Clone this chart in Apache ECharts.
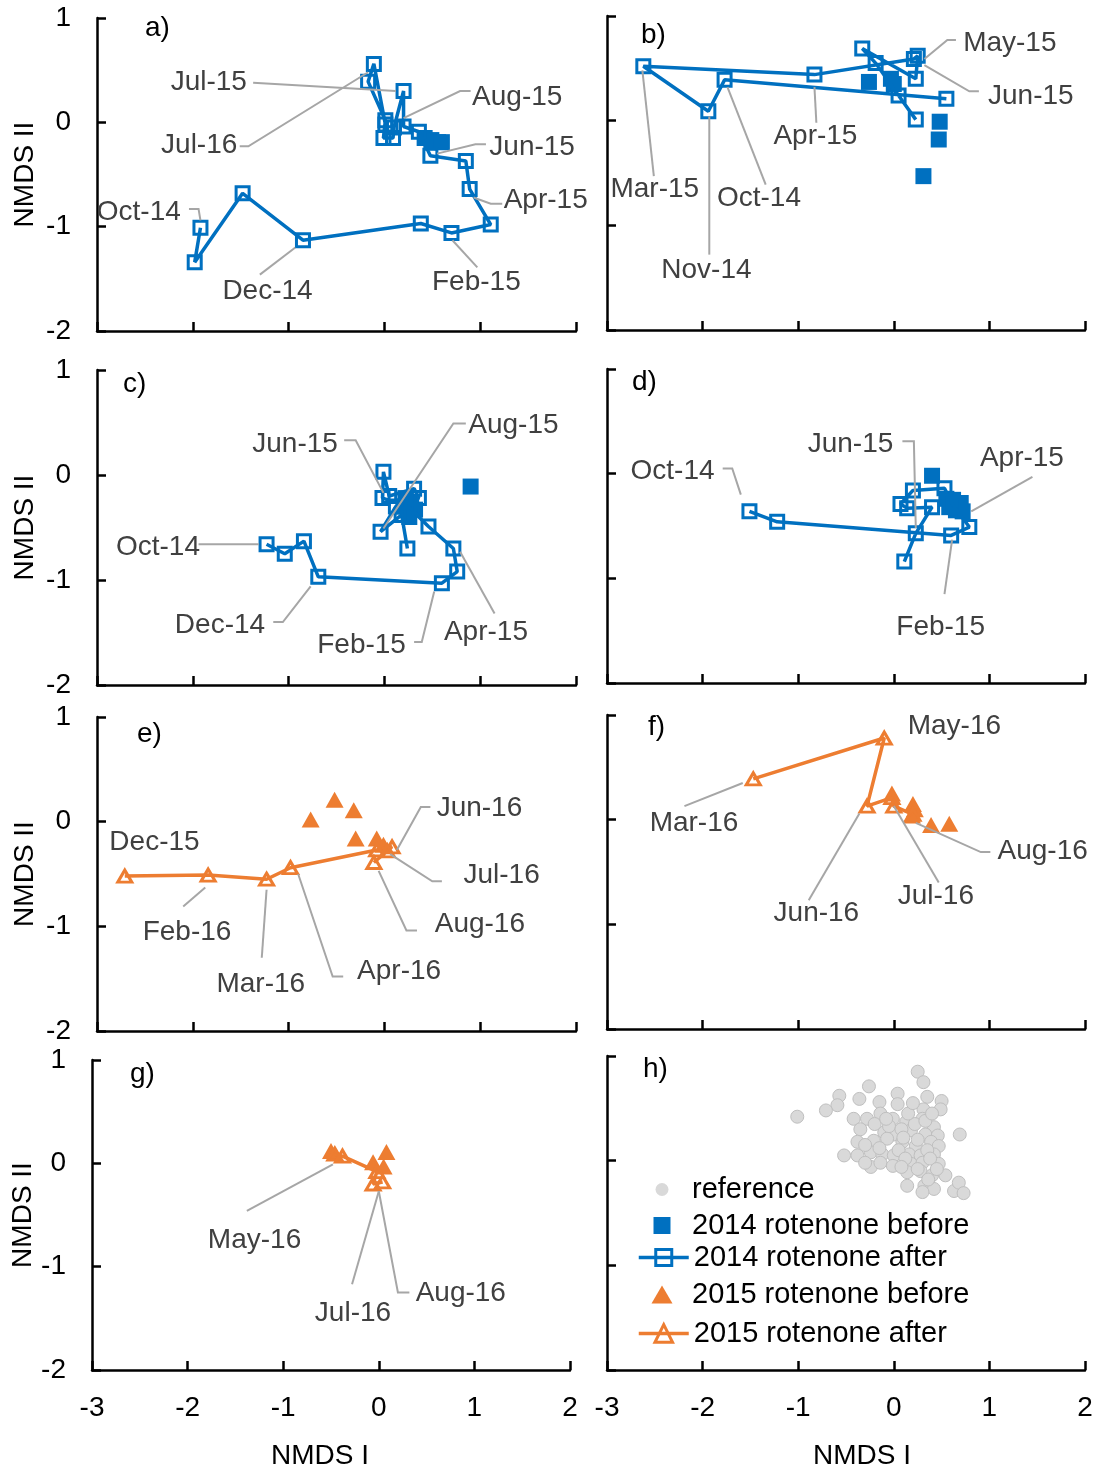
<!DOCTYPE html>
<html>
<head>
<meta charset="utf-8">
<script src="https://cdn.jsdelivr.net/npm/echarts@6/dist/echarts.min.js"></script>
<style>
html,body{margin:0;padding:0;background:#fff}
#chart{width:1099px;height:1471px}
</style>
</head>
<body>
<div id="chart"></div>
<script>
// NMDS ordination scores [NMDS I, NMDS II] for each station panel

// a)
const aBefore = [[0.42,-0.15],[0.49,-0.17],[0.56,-0.19],[0.60,-0.19]];
const aAfter = [[-1.92,-1.01],[-1.98,-1.34],[-1.48,-0.68],[-0.85,-1.13],[0.38,-0.97],[0.70,-1.06],[1.11,-0.98],[0.89,-0.64],[0.85,-0.37],[0.48,-0.32],[0.36,-0.09],[0.20,-0.04],[0.20,0.30],[0.10,-0.05],[0.09,-0.15],[-0.01,-0.15],[0.01,0.02],[-0.17,0.39],[-0.11,0.56],[0.01,-0.02]];
// b)
const bBefore = [[-0.26,0.37],[-0.03,0.40],[0.00,0.35],[0.48,-0.01],[0.47,-0.18],[0.31,-0.53]];
const bAfter = [[0.55,0.21],[-1.77,0.39],[-1.94,0.09],[-2.62,0.52],[-0.83,0.44],[0.21,0.59],[0.25,0.62],[0.23,0.40],[-0.33,0.69],[-0.19,0.55],[0.05,0.24],[0.23,0.01]];
// c)
const cBefore = [[0.90,-0.11],[0.22,-0.22],[0.28,-0.27],[0.32,-0.33],[0.26,-0.40],[0.20,-0.30]];
const cAfter = [[-1.23,-0.66],[-1.04,-0.75],[-0.84,-0.63],[-0.69,-0.97],[0.60,-1.03],[0.76,-0.92],[0.72,-0.70],[0.46,-0.49],[0.25,-0.30],[-0.02,-0.22],[-0.01,0.03],[0.05,-0.20],[0.31,-0.13],[0.36,-0.22],[0.12,-0.30],[-0.04,-0.54],[0.18,-0.38],[0.24,-0.70]];
// d)
const dBefore = [[0.40,-0.02],[0.55,-0.24],[0.62,-0.25],[0.70,-0.28],[0.65,-0.35],[0.58,-0.32],[0.72,-0.36]];
const dAfter = [[-1.51,-0.36],[-1.22,-0.46],[0.60,-0.59],[0.79,-0.51],[0.62,-0.30],[0.53,-0.14],[0.20,-0.16],[0.07,-0.29],[0.14,-0.33],[0.40,-0.32],[0.23,-0.57],[0.11,-0.84]];
// e)
const eBefore = [[-0.77,0.02],[-0.52,0.21],[-0.32,0.11],[-0.30,-0.16],[-0.08,-0.16],[-0.01,-0.22]];
const eAfter = [[-2.71,-0.52],[-1.84,-0.51],[-1.23,-0.55],[-0.98,-0.44],[-0.08,-0.27],[0.08,-0.24],[0.03,-0.28],[-0.11,-0.39]];
// f)
const fBefore = [[-0.02,0.25],[0.20,0.15],[0.22,0.10],[0.19,0.04],[0.39,-0.05],[0.58,-0.04]];
const fAfter = [[-1.47,0.39],[-0.10,0.78],[-0.28,0.13],[-0.02,0.21],[0.00,0.13],[0.20,0.05]];
// g)
const gBefore = [[-0.50,0.12],[-0.06,0.01],[0.08,0.11],[0.05,-0.03]];
const gAfter = [[-0.46,0.09],[-0.38,0.07],[-0.02,-0.08],[-0.06,-0.20],[0.04,-0.18]];
// h) reference stations
const hReference = [[0.25,0.85],[0.31,0.75],[-0.26,0.71],[-0.57,0.62],[0.04,0.64],[-0.36,0.59],[0.35,0.61],[0.50,0.57],[-0.15,0.56],[-0.59,0.53],[0.04,0.54],[-0.71,0.48],[0.31,0.49],[0.49,0.49],[-1.01,0.42],[-0.42,0.40],[-0.28,0.40],[-0.14,0.45],[-0.01,0.40],[0.13,0.37],[0.30,0.40],[0.42,0.32],[0.69,0.25],[-0.35,0.30],[-0.10,0.27],[0.00,0.25],[0.18,0.29],[0.33,0.25],[0.46,0.24],[-0.38,0.18],[-0.21,0.19],[-0.07,0.21],[0.09,0.18],[0.23,0.14],[0.39,0.18],[0.47,0.14],[-0.52,0.05],[-0.38,0.05],[-0.24,0.08],[-0.12,0.06],[0.00,0.05],[0.16,0.06],[0.28,0.05],[0.42,0.06],[-0.24,-0.06],[-0.14,-0.02],[-0.01,-0.05],[0.18,-0.03],[0.30,-0.02],[0.47,-0.03],[0.14,-0.11],[0.28,-0.10],[0.40,-0.14],[0.54,-0.14],[0.14,-0.24],[0.32,-0.24],[0.42,-0.27],[0.63,-0.29],[0.68,-0.21],[0.73,-0.31],[0.30,-0.30],[-0.05,0.33],[0.08,0.30],[0.22,0.35],[0.15,0.45],[0.25,0.20],[-0.30,0.15],[0.05,0.10],[0.35,0.10],[-0.15,0.12],[0.12,0.02],[0.25,-0.08],[0.38,0.02],[0.20,0.55],[0.33,0.38],[-0.20,0.35],[0.10,0.22],[-0.08,0.40],[0.40,0.45],[0.45,-0.08],[-0.30,-0.02],[0.08,-0.06],[0.36,-0.18]];

// Axis ticks
const xTicks = [-3, -2, -1, 0, 1, 2];
const yTicks = [-2, -1, 0, 1];

// Sampling-date annotations: text anchor, side of the anchor the text sits on, leader path
const aNotes = [
  {t:'Jul-15', at:[-1.43,0.38], side:'left', path:[[-1.37,0.38],[0.12,0.30]]},
  {t:'Jul-16', at:[-1.53,-0.22], side:'left', path:[[-1.51,-0.23],[-1.42,-0.23],[-0.17,0.48]]},
  {t:'Aug-15', at:[0.91,0.24], side:'right', path:[[0.90,0.30],[0.79,0.30],[0.20,0.04]]},
  {t:'Jun-15', at:[1.09,-0.24], side:'right', path:[[1.06,-0.21],[0.95,-0.21],[0.55,-0.30]]},
  {t:'Apr-15', at:[1.24,-0.75], side:'right', path:[[1.23,-0.78],[1.11,-0.78],[0.93,-0.72]]},
  {t:'Oct-14', at:[-2.12,-0.86], side:'left', path:[[-2.04,-0.83],[-1.94,-0.83],[-1.92,-0.94]]},
  {t:'Dec-14', at:[-1.22,-1.62], side:'center', path:[[-1.30,-1.46],[-0.93,-1.20]]},
  {t:'Feb-15', at:[0.96,-1.53], side:'center', path:[[0.97,-1.39],[0.71,-1.13]]}
];
const bNotes = [
  {t:'May-15', at:[0.72,0.74], side:'right', path:[[0.65,0.77],[0.56,0.77],[0.32,0.59]]},
  {t:'Jun-15', at:[0.98,0.23], side:'right', path:[[0.89,0.28],[0.79,0.28],[0.32,0.53]]},
  {t:'Apr-15', at:[-0.82,-0.15], side:'center', path:[[-0.81,-0.02],[-0.83,0.32]]},
  {t:'Mar-15', at:[-2.50,-0.66], side:'center', path:[[-2.51,-0.53],[-2.63,0.48]]},
  {t:'Oct-14', at:[-1.41,-0.74], side:'center', path:[[-1.34,-0.61],[-1.74,0.32]]},
  {t:'Nov-14', at:[-1.96,-1.43], side:'center', path:[[-1.93,-1.28],[-1.93,0.04]]}
];
const cNotes = [
  {t:'Jun-15', at:[-0.48,0.29], side:'left', path:[[-0.42,0.33],[-0.30,0.33],[-0.01,-0.17]]},
  {t:'Aug-15', at:[0.87,0.47], side:'right', path:[[0.85,0.49],[0.72,0.49],[-0.01,-0.51]]},
  {t:'Oct-14', at:[-1.92,-0.69], side:'left', path:[[-1.94,-0.66],[-1.31,-0.66]]},
  {t:'Dec-14', at:[-1.24,-1.43], side:'left', path:[[-1.16,-1.40],[-1.06,-1.40],[-0.77,-1.06]]},
  {t:'Feb-15', at:[0.23,-1.62], side:'left', path:[[0.31,-1.59],[0.39,-1.59],[0.52,-1.11]]},
  {t:'Apr-15', at:[1.06,-1.50], side:'center', path:[[1.15,-1.32],[0.79,-0.73]]}
];
const dNotes = [
  {t:'Oct-14', at:[-1.87,0.02], side:'left', path:[[-1.79,0.05],[-1.69,0.05],[-1.60,-0.20]]},
  {t:'Jun-15', at:[0.00,0.28], side:'left', path:[[0.09,0.31],[0.21,0.31],[0.23,-0.52]]},
  {t:'Apr-15', at:[1.34,0.15], side:'center', path:[[1.45,-0.03],[0.81,-0.36]]},
  {t:'Feb-15', at:[0.49,-1.47], side:'center', path:[[0.53,-1.15],[0.61,-0.63]]}
];
const eNotes = [
  {t:'Dec-15', at:[-2.40,-0.20], side:'center'},
  {t:'Feb-16', at:[-2.06,-1.06], side:'center', path:[[-2.10,-0.81],[-1.87,-0.63]]},
  {t:'Mar-16', at:[-1.29,-1.55], side:'center', path:[[-1.28,-1.30],[-1.23,-0.65]]},
  {t:'Apr-16', at:[-0.29,-1.43], side:'right', path:[[-0.43,-1.48],[-0.54,-1.48],[-0.90,-0.50]]},
  {t:'Aug-16', at:[0.52,-0.98], side:'right', path:[[0.34,-1.04],[0.23,-1.04],[-0.06,-0.47]]},
  {t:'Jul-16', at:[0.82,-0.51], side:'right', path:[[0.60,-0.57],[0.50,-0.57],[0.06,-0.31]]},
  {t:'Jun-16', at:[0.54,0.13], side:'right', path:[[0.48,0.14],[0.38,0.14],[0.13,-0.27]]}
];
const fNotes = [
  {t:'May-16', at:[0.14,0.89], side:'right'},
  {t:'Mar-16', at:[-2.09,-0.03], side:'center', path:[[-2.19,0.13],[-1.58,0.35]]},
  {t:'Jun-16', at:[-0.81,-0.89], side:'center', path:[[-0.89,-0.77],[-0.36,0.06]]},
  {t:'Jul-16', at:[0.44,-0.73], side:'center', path:[[0.47,-0.60],[0.00,0.13]]},
  {t:'Aug-16', at:[1.08,-0.30], side:'right', path:[[1.01,-0.31],[0.91,-0.31],[0.23,-0.03]]}
];
const gNotes = [
  {t:'May-16', at:[-1.30,-0.74], side:'center', path:[[-1.38,-0.46],[-0.48,-0.01]]},
  {t:'Jul-16', at:[-0.27,-1.45], side:'center', path:[[-0.28,-1.17],[0.00,-0.27]]},
  {t:'Aug-16', at:[0.38,-1.26], side:'right', path:[[0.32,-1.25],[0.20,-1.25],[0.00,-0.27]]}
];

const FONT = "'Liberation Sans', Arial, Helvetica, sans-serif";
const BLUE = '#0070C0', ORANGE = '#ED7D31', GREY = '#A6A6A6', INK = '#404040';

// Panel layout: [left, top, width, height] of each plot area
const panels = [
  {id:'a)', box:[97,18,479,313],  tag:[145,28],   col:0, year:2014, before:aBefore, after:aAfter, notes:aNotes},
  {id:'b)', box:[607,16,478,314], tag:[641,35],   col:1, year:2014, before:bBefore, after:bAfter, notes:bNotes},
  {id:'c)', box:[97,370,479,315], tag:[123,384],  col:0, year:2014, before:cBefore, after:cAfter, notes:cNotes},
  {id:'d)', box:[607,369,478,314],tag:[632,382],  col:1, year:2014, before:dBefore, after:dAfter, notes:dNotes},
  {id:'e)', box:[97,717,479,314], tag:[137,734],  col:0, year:2015, before:eBefore, after:eAfter, notes:eNotes},
  {id:'f)', box:[607,715,478,314],tag:[648,727],  col:1, year:2015, before:fBefore, after:fAfter, notes:fNotes},
  {id:'g)', box:[92,1060,478,313],tag:[130,1074], col:0, year:2015, before:gBefore, after:gAfter, notes:gNotes, bottom:true, namePad:[0,22,0,0]},
  {id:'h)', box:[607,1056,478,314],tag:[643,1069],col:1, reference:hReference, notes:[], bottom:true, namePad:[0,0,0,32]}
];

const grids = [], xAxes = [], yAxes = [], series = [], graphics = [];

panels.forEach((p, i) => {
  const [l, t, w, h] = p.box;
  grids.push({left:l, top:t, width:w, height:h, containLabel:false});

  xAxes.push({
    gridIndex:i, type:'value',
    min:xTicks[0], max:xTicks[xTicks.length-1], interval:1,
    axisLine:{show:true, onZero:false, lineStyle:{color:'#000', width:2.5}},
    axisTick:{show:true, inside:true, length:9, lineStyle:{color:'#000', width:2.5}},
    axisLabel:{show:!!p.bottom, color:'#000', fontSize:28, fontFamily:FONT, margin:24},
    splitLine:{show:false},
    name:p.bottom ? 'NMDS I' : '', nameLocation:'middle', nameGap:72,
    nameTextStyle:{color:'#000', fontSize:28, fontFamily:FONT, padding:p.namePad || 0}
  });

  yAxes.push({
    gridIndex:i, type:'value',
    min:yTicks[0], max:yTicks[yTicks.length-1], interval:1,
    axisLine:{show:true, onZero:false, lineStyle:{color:'#000', width:2.5}},
    axisTick:{show:true, inside:true, length:9, lineStyle:{color:'#000', width:2.5}},
    axisLabel:{show:p.col === 0, color:'#000', fontSize:28, fontFamily:FONT, margin:26},
    splitLine:{show:false},
    name:p.col === 0 ? 'NMDS II' : '', nameLocation:'middle', nameGap:p.id === 'g)' ? 53 : 58,
    nameTextStyle:{color:'#000', fontSize:28, fontFamily:FONT}
  });

  if (p.reference) {
    series.push({
      type:'scatter', name:'reference', xAxisIndex:i, yAxisIndex:i,
      symbol:'circle', symbolSize:13,
      itemStyle:{color:'#D9D9D9', borderColor:'#BFBFBF', borderWidth:1, opacity:1},
      data:p.reference, z:2
    });
  }

  if (p.year) {
    const col = p.year === 2014 ? BLUE : ORANGE;
    const shape = p.year === 2014 ? 'rect' : 'triangle';
    series.push({
      type:'scatter', name:p.year + ' rotenone before', xAxisIndex:i, yAxisIndex:i,
      symbol:shape, symbolSize:p.year === 2014 ? 16 : [18,16],
      itemStyle:{color:col, opacity:1},
      data:p.before, z:2
    });
    series.push({
      type:'line', name:p.year + ' rotenone after', xAxisIndex:i, yAxisIndex:i,
      symbol:shape, symbolSize:p.year === 2014 ? 13 : [14,12],
      showSymbol:true, showAllSymbol:true, clip:false,
      lineStyle:{color:col, width:3.5},
      itemStyle:{color:'rgba(255,255,255,0)', borderColor:col, borderWidth:3},
      data:p.after, z:3
    });
  }

  if (p.notes.length) {
    series.push({
      type:'lines', coordinateSystem:'cartesian2d', xAxisIndex:i, yAxisIndex:i,
      polyline:true, silent:true, z:4,
      lineStyle:{color:GREY, width:2, opacity:1},
      data:p.notes.filter(n => n.path).map(n => ({coords:n.path}))
    });
    series.push({
      type:'scatter', xAxisIndex:i, yAxisIndex:i, silent:true, z:5,
      symbolSize:1, itemStyle:{color:'rgba(0,0,0,0)', opacity:1},
      label:{show:true, formatter:'{b}', color:INK, opacity:1, fontSize:28, fontFamily:FONT, distance:0},
      data:p.notes.map(n => ({
        value:n.at, name:n.t,
        label:{position:n.side === 'left' ? 'left' : n.side === 'right' ? 'right' : 'inside'}
      }))
    });
  }

  graphics.push({
    type:'text', x:p.tag[0], y:p.tag[1], silent:true,
    style:{text:p.id, fill:'#000', fontSize:28, fontFamily:FONT, verticalAlign:'middle', align:'left'}
  });
});

// Key, one row per marker type; marker-only rows use a centred glyph inside a 50px-wide icon box
const keyRows = [
  {name:'reference', cy:1189, size:14, icon:'path://M0,0M50,14M31.5,7a6.5,6.5 0 1,1 -13,0a6.5,6.5 0 1,1 13,0z'},
  {name:'2014 rotenone before', cy:1225, size:18, icon:'path://M0,0M50,18M16.5,0.5h17v17h-17z'},
  {name:'2014 rotenone after', cy:1257, size:20, line:true},
  {name:'2015 rotenone before', cy:1294, size:20, icon:'path://M0,0M50,20M25,1L35.5,19L14.5,19z'},
  {name:'2015 rotenone after', cy:1333, size:22, line:true}
];
const legends = keyRows.map(r => {
  const lg = {
    data:[r.icon ? {name:r.name, icon:r.icon} : r.name],
    left:637, top:r.cy - 14, padding:0, orient:'vertical',
    itemWidth:50, itemHeight:r.size, itemGap:0, selectedMode:false,
    textStyle:{color:'#000', fontSize:29, fontFamily:FONT}
  };
  if (r.line) {
    lg.lineStyle = {width:3.5};
    lg.itemStyle = {borderWidth:3};
  } else {
    lg.itemStyle = {borderWidth:0};
  }
  return lg;
});

const chart = echarts.init(document.getElementById('chart'), null, {renderer:'canvas'});
chart.setOption({
  backgroundColor:'#fff',
  animation:false,
  textStyle:{fontFamily:FONT},
  grid:grids,
  xAxis:xAxes,
  yAxis:yAxes,
  legend:legends,
  graphic:graphics,
  series:series
});
</script>
</body>
</html>
